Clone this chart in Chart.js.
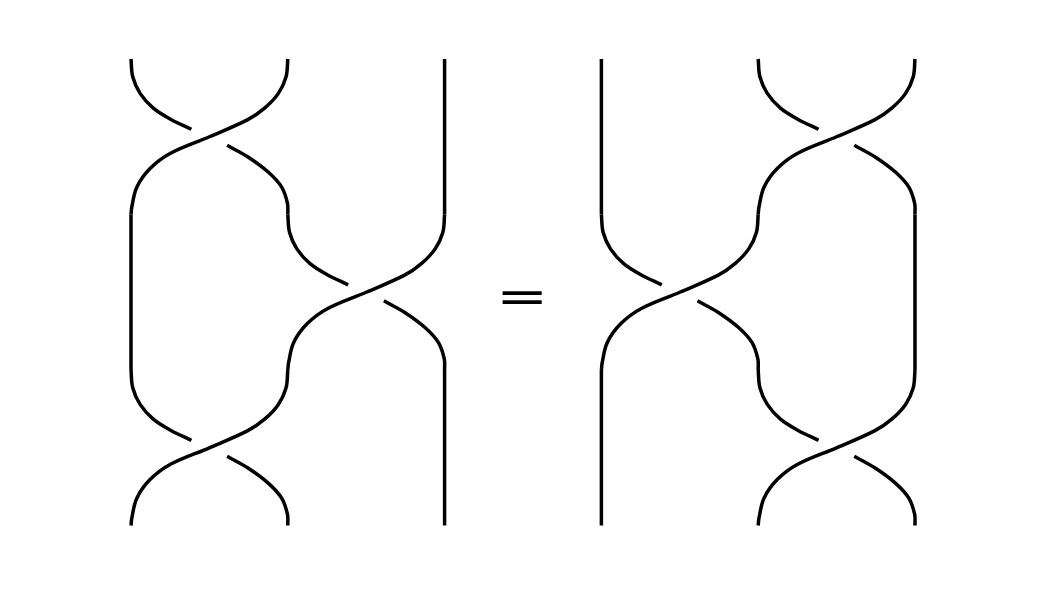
<!DOCTYPE html>
<html>
<head>
<meta charset="utf-8">
<script src="https://cdn.jsdelivr.net/npm/chart.js@4.4.0/dist/chart.umd.min.js"></script>
<style>
  html, body { margin: 0; padding: 0; background: #fff; }
  #wrap { width: 1055px; height: 598px; }
</style>
</head>
<body>
<div id="wrap"><canvas id="braid"></canvas></div>
<script>
// one crossing: u goes across (0..1), v goes down (0..1)
const underTopU = [0, 0.011, 0.058, 0.142, 0.252, 0.385];
const underTopV = [0, 0.114, 0.221, 0.316, 0.387, 0.452];
const underBotU = [0.613, 0.746, 0.875, 0.961, 0.998, 1];
const underBotV = [0.555, 0.630, 0.727, 0.824, 0.929, 1];
const overU = [1, 0.989, 0.94, 0.852, 0.745, 0.5, 0.252, 0.123, 0.037, 0.005, 0];
const overV = [0, 0.114, 0.221, 0.316, 0.39, 0.5, 0.606, 0.703, 0.824, 0.953, 1];

// [left column, row] of each crossing; columns 0-2 left braid, 3-5 right braid
const crossings = [[0, 0], [1, 1], [0, 2], [4, 0], [3, 1], [4, 2]];
// [column, row] of each straight piece
const straights = [[2, 0], [0, 1], [2, 2], [3, 0], [5, 1], [3, 2]];

const eqText = "=";

function piece(us, vs, col, row) {
  return us.map((u, i) => ({x: col + u, y: row + vs[i]}));
}

const lineStyle = {
  showLine: true,
  pointRadius: 0,
  borderColor: "#000",
  borderWidth: 3.5,
  tension: 0.35,
  fill: false
};

const datasets = [];
crossings.forEach(([c, r]) => {
  datasets.push({...lineStyle, data: piece(underTopU, underTopV, c, r)});
  datasets.push({...lineStyle, data: piece(underBotU, underBotV, c, r)});
  datasets.push({...lineStyle, data: piece(overU, overV, c, r)});
});
straights.forEach(([c, r]) => {
  datasets.push({...lineStyle, tension: 0, data: [{x: c, y: r}, {x: c, y: r + 1}]});
});

// the "=" between the two braids, a bit wider than the font draws it
const equalSign = {
  id: "equalSign",
  afterDatasetsDraw(chart) {
    const {ctx, scales} = chart;
    ctx.save();
    ctx.translate(scales.x.getPixelForValue(2.494), scales.y.getPixelForValue(1.556));
    ctx.scale(1.42, 1);
    ctx.fillStyle = "#000";
    ctx.font = "44px 'DejaVu Sans'";
    ctx.textAlign = "center";
    ctx.textBaseline = "middle";
    ctx.fillText(eqText, 0, 0);
    ctx.restore();
  }
};

new Chart(document.getElementById("braid"), {
  type: "scatter",
  data: { datasets: datasets },
  options: {
    responsive: true,
    maintainAspectRatio: false,
    animation: false,
    layout: { padding: 0 },
    scales: {
      x: { type: "linear", min: -0.8355, max: 5.893, display: false },
      y: { type: "linear", min: -0.3794, max: 3.466, reverse: true, display: false }
    },
    plugins: {
      legend: { display: false },
      tooltip: { enabled: false }
    }
  },
  plugins: [equalSign]
});
</script>
</body>
</html>
